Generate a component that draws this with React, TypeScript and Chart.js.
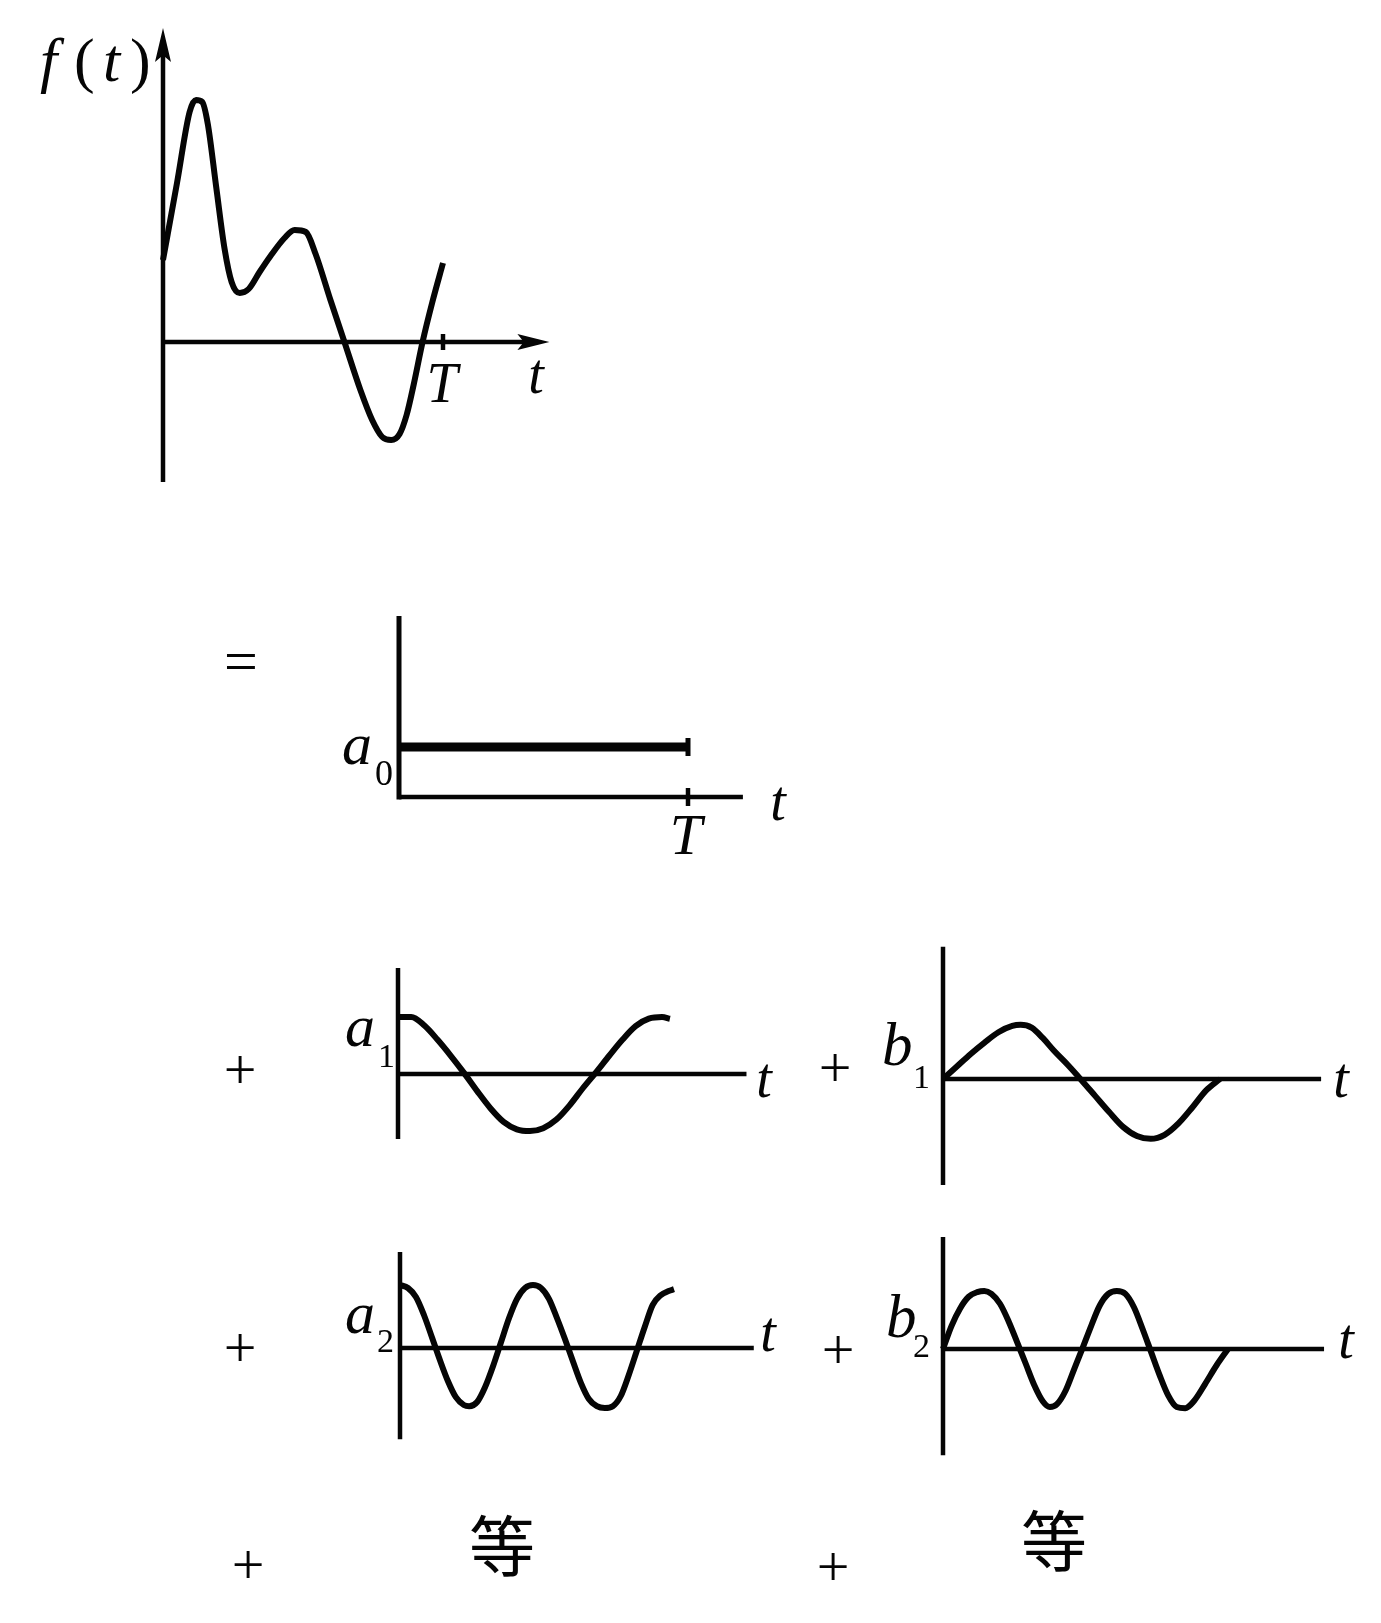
import React, { useEffect, useRef } from "react";
import { Chart, registerables } from "chart.js";
Chart.register(...registerables);

// ---------- DATA (t in units of the period T, amplitudes in arbitrary units) ----------
// f(t): the original periodic signal over one period
const fT = [0, 0.05, 0.095, 0.118, 0.14, 0.16, 0.19, 0.22, 0.245, 0.274, 0.306, 0.345, 0.384, 0.434, 0.47, 0.51, 0.545, 0.598, 0.648, 0.705, 0.747, 0.783, 0.815, 0.845, 0.87, 0.895, 0.927, 0.962, 1.0];
const fVal = [0.82, 1.59, 2.3, 2.42, 2.4, 2.18, 1.55, 0.93, 0.6, 0.49, 0.53, 0.7, 0.86, 1.04, 1.12, 1.1, 0.88, 0.42, 0.0, -0.48, -0.78, -0.95, -0.98, -0.92, -0.73, -0.43, 0.0, 0.4, 0.79];

// a0: constant term
const a0T = [0, 1];
const a0Val = [1, 1];

// a1: first cosine harmonic
const a1T = [0, 0.05, 0.1, 0.15, 0.2, 0.25, 0.3, 0.35, 0.4, 0.45, 0.5, 0.55, 0.6, 0.65, 0.7, 0.75, 0.8, 0.85, 0.9, 0.95, 1.0, 1.03];
const a1Val = [1.0, 1.0, 0.85, 0.6, 0.32, 0.02, -0.3, -0.6, -0.84, -0.97, -1.0, -0.95, -0.8, -0.55, -0.25, 0.03, 0.32, 0.6, 0.84, 0.97, 1.0, 0.97];

// b1: first sine harmonic
const b1T = [0, 0.05, 0.1, 0.15, 0.2, 0.25, 0.28, 0.32, 0.36, 0.4, 0.45, 0.5, 0.55, 0.6, 0.65, 0.7, 0.75, 0.8, 0.85, 0.9, 0.95, 1.0];
const b1Val = [0, 0.22, 0.44, 0.64, 0.82, 0.93, 0.95, 0.9, 0.72, 0.5, 0.25, -0.02, -0.3, -0.58, -0.84, -1.0, -1.05, -0.98, -0.78, -0.5, -0.2, 0];

// a2: second cosine harmonic
const a2T = [0, 0.03, 0.06, 0.09, 0.12, 0.15, 0.18, 0.21, 0.24, 0.26, 0.29, 0.32, 0.35, 0.38, 0.41, 0.44, 0.47, 0.5, 0.53, 0.56, 0.59, 0.62, 0.65, 0.68, 0.71, 0.74, 0.77, 0.8, 0.83, 0.86, 0.89, 0.92, 0.95, 0.98, 1.01, 1.03];
const a2Val = [1.05, 1.0, 0.85, 0.55, 0.18, -0.2, -0.55, -0.82, -0.95, -0.97, -0.9, -0.65, -0.3, 0.1, 0.5, 0.82, 1.0, 1.05, 1.0, 0.82, 0.5, 0.15, -0.22, -0.58, -0.85, -0.97, -1.0, -0.97, -0.8, -0.45, -0.05, 0.35, 0.72, 0.88, 0.95, 0.98];

// b2: second sine harmonic
const b2T = [0, 0.03, 0.06, 0.09, 0.12, 0.145, 0.17, 0.2, 0.23, 0.26, 0.29, 0.32, 0.35, 0.375, 0.4, 0.43, 0.46, 0.49, 0.52, 0.55, 0.58, 0.61, 0.64, 0.67, 0.7, 0.73, 0.76, 0.79, 0.82, 0.85, 0.88, 0.92, 0.96, 1.0];
const b2Val = [0, 0.4, 0.7, 0.9, 0.98, 1.0, 0.95, 0.78, 0.48, 0.12, -0.25, -0.62, -0.9, -1.0, -0.95, -0.72, -0.35, 0.02, 0.4, 0.75, 0.95, 1.0, 0.95, 0.72, 0.35, -0.05, -0.45, -0.8, -1.0, -1.02, -0.9, -0.6, -0.28, 0];

// tick label / axis labels
const periodLabel = "T";
const timeLabel = "t";
const moreLabel = "等";

// ---------- helpers ----------
type Pt = { x: number; y: number };
const zip = (xs: number[], ys: number[]): Pt[] => xs.map((x, i) => ({ x, y: ys[i] }));

const INK = "#050505";

const lineDs = (data: Pt[], width: number, curve = false) => ({
  data,
  borderColor: INK,
  backgroundColor: INK,
  borderWidth: width,
  fill: false,
  pointRadius: 0,
  clip: false as any,
  tension: 0,
  cubicInterpolationMode: curve ? ("monotone" as const) : ("default" as const),
  borderCapStyle: "butt" as const,
  borderJoinStyle: "round" as const,
});

type Arrow = { x: number; y: number; dir: "up" | "right"; len: number; half: number };

interface Panel {
  key: string;
  left: number;
  top: number;
  width: number;
  height: number;
  ox: number;
  oy: number;
  ux: number;
  uy: number;
  datasets: any[];
  arrows?: Arrow[];
}

const axisW = 4.5;
const curveW = 6;

const panels: Panel[] = [
  {
    key: "f",
    left: 20, top: 10, width: 560, height: 490,
    ox: 163, oy: 342, ux: 280, uy: 100,
    datasets: [
      lineDs([{ x: 0, y: -1.4 }, { x: 0, y: 3.0 }], axisW),
      lineDs([{ x: 0, y: 0 }, { x: 1.34, y: 0 }], axisW),
      lineDs([{ x: 1, y: -0.08 }, { x: 1, y: 0.08 }], axisW),
      lineDs(zip(fT, fVal), curveW, true),
    ],
    arrows: [
      { x: 0, y: 3.14, dir: "up", len: 34, half: 8 },
      { x: 1.38, y: 0, dir: "right", len: 32, half: 8 },
    ],
  },
  {
    key: "a0",
    left: 360, top: 600, width: 400, height: 220,
    ox: 399, oy: 797, ux: 289, uy: 50,
    datasets: [
      lineDs([{ x: 0, y: -0.05 }, { x: 0, y: 3.62 }], 5),
      lineDs([{ x: 0, y: 0 }, { x: 1.19, y: 0 }], axisW),
      lineDs([{ x: 1, y: -0.18 }, { x: 1, y: 0.18 }], axisW),
      lineDs(zip(a0T, a0Val), 9),
      lineDs([{ x: 1, y: 0.82 }, { x: 1, y: 1.18 }], 5),
    ],
  },
  {
    key: "a1",
    left: 360, top: 950, width: 420, height: 210,
    ox: 398, oy: 1074, ux: 264, uy: 57,
    datasets: [
      lineDs([{ x: 0, y: -1.14 }, { x: 0, y: 1.86 }], axisW),
      lineDs([{ x: 0, y: 0 }, { x: 1.32, y: 0 }], axisW),
      lineDs(zip(a1T, a1Val), curveW, true),
    ],
  },
  {
    key: "b1",
    left: 910, top: 930, width: 440, height: 270,
    ox: 943, oy: 1079, ux: 277, uy: 57,
    datasets: [
      lineDs([{ x: 0, y: -1.86 }, { x: 0, y: 2.32 }], axisW),
      lineDs([{ x: 0, y: 0 }, { x: 1.365, y: 0 }], axisW),
      lineDs(zip(b1T, b1Val), curveW, true),
    ],
  },
  {
    key: "a2",
    left: 360, top: 1235, width: 420, height: 220,
    ox: 400, oy: 1348, ux: 266, uy: 60,
    datasets: [
      lineDs([{ x: 0, y: -1.52 }, { x: 0, y: 1.6 }], axisW),
      lineDs([{ x: 0, y: 0 }, { x: 1.33, y: 0 }], axisW),
      lineDs(zip(a2T, a2Val), curveW, true),
    ],
  },
  {
    key: "b2",
    left: 910, top: 1225, width: 440, height: 245,
    ox: 943, oy: 1349, ux: 285, uy: 58,
    datasets: [
      lineDs([{ x: 0, y: -1.83 }, { x: 0, y: 1.93 }], axisW),
      lineDs([{ x: 0, y: 0 }, { x: 1.337, y: 0 }], axisW),
      lineDs(zip(b2T, b2Val), curveW, true),
    ],
  },
];

function makeArrowPlugin(arrows: Arrow[]) {
  return {
    id: "arrowHeads",
    afterDatasetsDraw(chart: any) {
      const ctx = chart.ctx;
      const xs = chart.scales.x;
      const ys = chart.scales.y;
      ctx.save();
      ctx.fillStyle = INK;
      for (const a of arrows) {
        const px = xs.getPixelForValue(a.x);
        const py = ys.getPixelForValue(a.y);
        ctx.beginPath();
        if (a.dir === "up") {
          ctx.moveTo(px, py);
          ctx.lineTo(px - a.half, py + a.len);
          ctx.lineTo(px, py + a.len * 0.8);
          ctx.lineTo(px + a.half, py + a.len);
        } else {
          ctx.moveTo(px, py);
          ctx.lineTo(px - a.len, py - a.half);
          ctx.lineTo(px - a.len * 0.8, py);
          ctx.lineTo(px - a.len, py + a.half);
        }
        ctx.closePath();
        ctx.fill();
      }
      ctx.restore();
    },
  };
}

function PanelChart({ p }: { p: Panel }) {
  const ref = useRef<HTMLCanvasElement | null>(null);
  useEffect(() => {
    if (!ref.current) return;
    const xMin = (p.left - p.ox) / p.ux;
    const xMax = (p.left + p.width - p.ox) / p.ux;
    const yMax = (p.oy - p.top) / p.uy;
    const yMin = (p.oy - p.top - p.height) / p.uy;
    const chart = new Chart(ref.current, {
      type: "line",
      data: { datasets: p.datasets },
      options: {
        responsive: false,
        maintainAspectRatio: false,
        animation: false,
        devicePixelRatio: 1,
        events: [],
        layout: { padding: 0 },
        scales: {
          x: { type: "linear", display: false, min: xMin, max: xMax },
          y: { type: "linear", display: false, min: yMin, max: yMax },
        },
        plugins: { legend: { display: false }, tooltip: { enabled: false } },
        elements: { point: { radius: 0 } },
      } as any,
      plugins: [makeArrowPlugin(p.arrows || [])],
    });
    return () => chart.destroy();
  }, [p]);
  return (
    <canvas
      ref={ref}
      width={p.width}
      height={p.height}
      style={{ position: "absolute", left: p.left, top: p.top, width: p.width, height: p.height }}
    />
  );
}

type Lbl = {
  text: string;
  x: number;
  baseline: number;
  size: number;
  italic?: boolean;
  center?: boolean;
  cjk?: boolean;
};

const SERIF = '"Liberation Serif", "DejaVu Serif", serif';
const CJK = '"Noto Sans CJK SC", "Noto Sans CJK TC", sans-serif';

const labels: Lbl[] = [
  // f(t)
  { text: "f", x: 40, baseline: 81, size: 62, italic: true },
  { text: "(", x: 74, baseline: 81, size: 62 },
  { text: "t", x: 103, baseline: 81, size: 62, italic: true },
  { text: ")", x: 130, baseline: 81, size: 62 },
  { text: periodLabel, x: 442, baseline: 402, size: 56, italic: true, center: true },
  { text: timeLabel, x: 536, baseline: 393, size: 56, italic: true, center: true },
  // a0 panel
  { text: "=", x: 241, baseline: 681, size: 60, center: true },
  { text: "a", x: 342, baseline: 764, size: 60, italic: true },
  { text: "0", x: 375, baseline: 785, size: 36 },
  { text: periodLabel, x: 686, baseline: 855, size: 58, italic: true, center: true },
  { text: timeLabel, x: 778, baseline: 820, size: 56, italic: true, center: true },
  // a1
  { text: "+", x: 240, baseline: 1090, size: 58, center: true },
  { text: "a", x: 345, baseline: 1046, size: 60, italic: true },
  { text: "1", x: 378, baseline: 1067, size: 34 },
  { text: timeLabel, x: 764, baseline: 1097, size: 56, italic: true, center: true },
  // b1
  { text: "+", x: 835, baseline: 1088, size: 58, center: true },
  { text: "b", x: 882, baseline: 1065, size: 61, italic: true },
  { text: "1", x: 913, baseline: 1088, size: 34 },
  { text: timeLabel, x: 1341, baseline: 1097, size: 56, italic: true, center: true },
  // a2
  { text: "+", x: 240, baseline: 1368, size: 58, center: true },
  { text: "a", x: 345, baseline: 1333, size: 60, italic: true },
  { text: "2", x: 377, baseline: 1352, size: 34 },
  { text: timeLabel, x: 768, baseline: 1351, size: 56, italic: true, center: true },
  // b2
  { text: "+", x: 838, baseline: 1370, size: 58, center: true },
  { text: "b", x: 886, baseline: 1337, size: 61, italic: true },
  { text: "2", x: 913, baseline: 1357, size: 34 },
  { text: timeLabel, x: 1346, baseline: 1358, size: 56, italic: true, center: true },
  // bottom row
  { text: "+", x: 248, baseline: 1585, size: 58, center: true },
  { text: "+", x: 833, baseline: 1587, size: 58, center: true },
  { text: moreLabel, x: 502, baseline: 1542, size: 66, center: true, cjk: true },
  { text: moreLabel, x: 1054, baseline: 1537, size: 66, center: true, cjk: true },
];

function Label({ l }: { l: Lbl }) {
  const top = l.cjk ? l.baseline - l.size / 2 : l.baseline - 0.8375 * l.size;
  return (
    <span
      style={{
        position: "absolute",
        left: l.x,
        top,
        fontFamily: l.cjk ? CJK : SERIF,
        fontSize: l.size,
        lineHeight: 1,
        fontStyle: l.italic ? "italic" : "normal",
        color: INK,
        whiteSpace: "nowrap",
        transform: l.center ? "translateX(-50%)" : undefined,
      }}
    >
      {l.text}
    </span>
  );
}

export default function App() {
  return (
    <div
      style={{
        position: "absolute",
        left: 0,
        top: 0,
        width: 1381,
        height: 1623,
        background: "#ffffff",
        overflow: "hidden",
      }}
    >
      {panels.map((p) => (
        <PanelChart key={p.key} p={p} />
      ))}
      {labels.map((l, i) => (
        <Label key={i} l={l} />
      ))}
    </div>
  );
}
